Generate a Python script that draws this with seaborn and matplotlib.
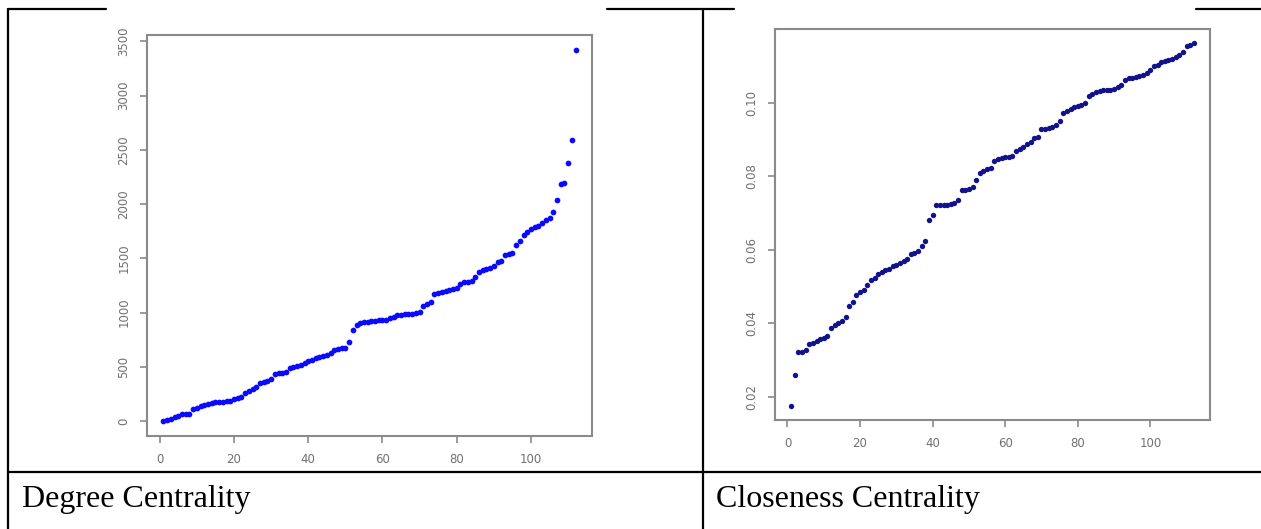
import numpy as np
import pandas as pd
import matplotlib.pyplot as plt
import seaborn as sns
from matplotlib.lines import Line2D

# -------------------
# Data
# -------------------
node_rank = list(range(1, 113))

degree = [
    0, 12, 24, 36, 48, 62, 64, 66, 110, 125,
    138, 150, 158, 166, 172, 176, 180, 184, 190, 205,
    210, 225, 255, 275, 296, 312, 350, 362, 368, 385,
    435, 440, 444, 450, 490, 500, 510, 522, 535, 550,
    565, 578, 592, 602, 612, 630, 652, 668, 672, 678,
    730, 840, 885, 900, 915, 918, 922, 925, 928, 932,
    935, 948, 960, 975, 980, 985, 988, 992, 996, 1005,
    1060, 1080, 1098, 1175, 1185, 1192, 1198, 1205, 1215, 1230,
    1265, 1278, 1285, 1292, 1330, 1375, 1395, 1402, 1408, 1430,
    1468, 1475, 1528, 1540, 1550, 1620, 1660, 1720, 1740, 1770,
    1785, 1800, 1825, 1855, 1875, 1930, 2042, 2190, 2195, 2380,
    2588, 3422,
]

closeness = [
    0.0176, 0.0258, 0.0321, 0.0323, 0.0326, 0.0344, 0.0347, 0.0351, 0.0356, 0.0361,
    0.0365, 0.0386, 0.0396, 0.0402, 0.0406, 0.0418, 0.0448, 0.0458, 0.0478, 0.0484,
    0.0491, 0.0505, 0.0519, 0.0523, 0.0535, 0.0539, 0.0545, 0.0549, 0.0556, 0.0560,
    0.0565, 0.0569, 0.0576, 0.0589, 0.0592, 0.0596, 0.0610, 0.0624, 0.0680, 0.0695,
    0.0721, 0.0722, 0.0722, 0.0723, 0.0725, 0.0728, 0.0736, 0.0762, 0.0764, 0.0767,
    0.0772, 0.0790, 0.0808, 0.0816, 0.0820, 0.0822, 0.0843, 0.0847, 0.0850, 0.0852,
    0.0854, 0.0856, 0.0868, 0.0875, 0.0881, 0.0887, 0.0894, 0.0904, 0.0906, 0.0928,
    0.0930, 0.0932, 0.0935, 0.0941, 0.0950, 0.0972, 0.0979, 0.0983, 0.0988, 0.0991,
    0.0994, 0.0999, 0.1020, 0.1025, 0.1031, 0.1033, 0.1034, 0.1034, 0.1036, 0.1038,
    0.1044, 0.1050, 0.1062, 0.1067, 0.1069, 0.1072, 0.1074, 0.1076, 0.1081, 0.1090,
    0.1100, 0.1104, 0.1112, 0.1115, 0.1118, 0.1121, 0.1124, 0.1130, 0.1140, 0.1155,
    0.1159, 0.1162,
]

x_ticks = [0, 20, 40, 60, 80, 100]
degree_ticks = [0, 500, 1000, 1500, 2000, 2500, 3000, 3500]
closeness_ticks = [0.02, 0.04, 0.06, 0.08, 0.10]
closeness_labels = ["0.02", "0.04", "0.06", "0.08", "0.10"]
captions = ["Degree Centrality", "Closeness Centrality"]

df = pd.DataFrame({"rank": node_rank, "degree": degree, "closeness": closeness})

# -------------------
# Figure setup
# -------------------
sns.set_style("white")
plt.rcParams["font.family"] = ["DejaVu Sans"]

W, H = 1261, 529
fig = plt.figure(figsize=(W / 100, H / 100), dpi=100)


def box(x0, y0, x1, y1):
    # pixel box -> figure fraction [left, bottom, width, height]
    return [x0 / W, 1 - y1 / H, (x1 - x0) / W, (y1 - y0) / H]


def r_limits(vals):
    lo, hi = min(vals), max(vals)
    pad = 0.04 * (hi - lo)
    return lo - pad, hi + pad


def style_axes(ax):
    for sp in ax.spines.values():
        sp.set_visible(True)
        sp.set_color("#8a8a8a")
        sp.set_linewidth(1.5)
    ax.tick_params(axis="both", direction="out", length=5, width=1.2,
                   bottom=True, left=True, color="#8a8a8a",
                   labelcolor="#707070", labelsize=8.5, pad=7)
    ax.set_xlabel("")
    ax.set_ylabel("")
    ax.set_xlim(*r_limits(node_rank))
    ax.set_xticks(x_ticks)


# -------------------
# Degree centrality
# -------------------
ax1 = fig.add_axes(box(147, 35, 592, 436))
sns.scatterplot(data=df, x="rank", y="degree", ax=ax1, color="#0a0aff",
                s=17, linewidth=0, legend=False)
style_axes(ax1)
ax1.set_ylim(*r_limits(degree))
ax1.set_yticks(degree_ticks)
ax1.set_yticklabels([str(t) for t in degree_ticks], rotation=90, va="center")

# -------------------
# Closeness centrality
# -------------------
ax2 = fig.add_axes(box(775, 29, 1210, 420))
sns.scatterplot(data=df, x="rank", y="closeness", ax=ax2, color="#12128a",
                s=15, linewidth=0, legend=False)
style_axes(ax2)
ax2.set_ylim(*r_limits(closeness))
ax2.set_yticks(closeness_ticks)
ax2.set_yticklabels(closeness_labels, rotation=90, va="center")

# -------------------
# Table borders and captions
# -------------------
def hline(x0, x1, y):
    fig.add_artist(Line2D([x0 / W, x1 / W], [1 - y / H, 1 - y / H],
                          transform=fig.transFigure, color="black", lw=1.6))


def vline(x, y0, y1):
    fig.add_artist(Line2D([x / W, x / W], [1 - y0 / H, 1 - y1 / H],
                          transform=fig.transFigure, color="black", lw=1.6))


hline(8, 106, 9)
hline(607, 734, 9)
hline(1196, W, 9)
hline(8, W, 472)
vline(8, 9, H)
vline(703, 9, H)

fig.text(22 / W, 1 - 500 / H, captions[0], family="Liberation Serif",
         fontsize=23, va="center", ha="left", color="black")
fig.text(716 / W, 1 - 500 / H, captions[1], family="Liberation Serif",
         fontsize=23, va="center", ha="left", color="black")

fig.savefig("out.png", dpi=100, facecolor="white")
